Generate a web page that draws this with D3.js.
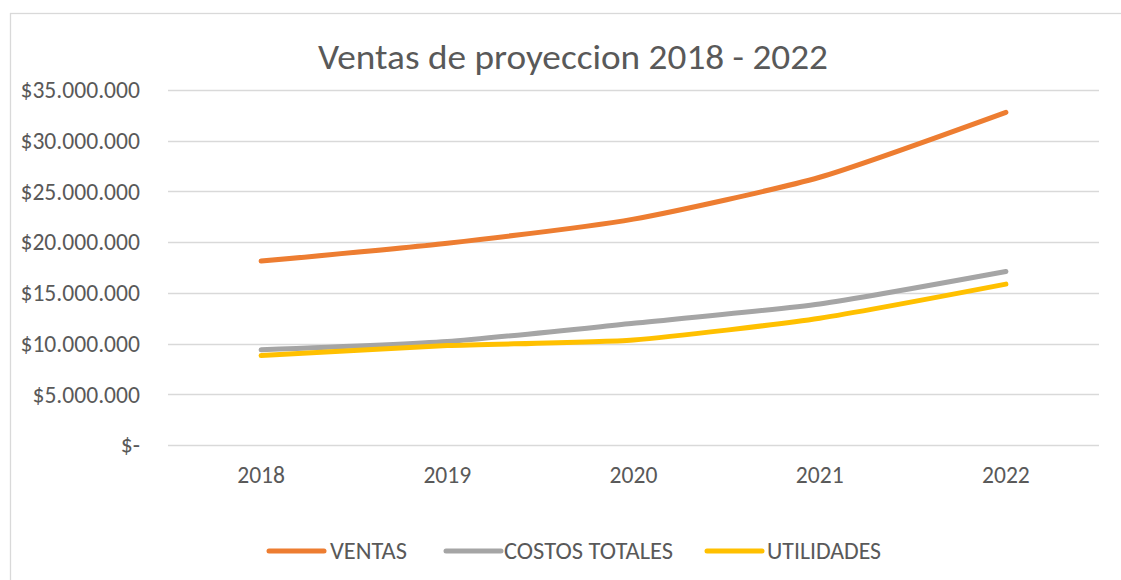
<!DOCTYPE html>
<html>
<head>
<meta charset="utf-8">
<script src="https://cdn.jsdelivr.net/npm/d3@7/dist/d3.min.js"></script>
<style>
  html, body { margin: 0; padding: 0; background: #ffffff; }
  svg { display: block; }
  text { font-family: Carlito, Lato, "Open Sans", sans-serif; fill: #595959; }
</style>
</head>
<body>
<svg id="chart" width="1121" height="580"></svg>
<script>
const title = "Ventas de proyeccion 2018 - 2022";
const categories = ["2018", "2019", "2020", "2021", "2022"];
const ventas = [18130000, 19900000, 22270000, 26400000, 32800000];
const costosTotales = [9380000, 10200000, 12000000, 13900000, 17100000];
const utilidades = [8820000, 9800000, 10360000, 12500000, 15860000];
const yTicks = [0, 5000000, 10000000, 15000000, 20000000, 25000000, 30000000, 35000000];
const seriesNames = ["VENTAS", "COSTOS TOTALES", "UTILIDADES"];
const seriesColors = ["#ED7D31", "#A5A5A5", "#FFC000"];

const series = [
  { name: seriesNames[0], values: ventas, color: seriesColors[0] },
  { name: seriesNames[1], values: costosTotales, color: seriesColors[1] },
  { name: seriesNames[2], values: utilidades, color: seriesColors[2] }
];

const svg = d3.select("#chart");

// outer chart border
svg.append("rect")
  .attr("x", 10.5).attr("y", 13.5)
  .attr("width", 1200).attr("height", 700)
  .attr("fill", "#ffffff")
  .attr("stroke", "#D9D9D9").attr("stroke-width", 1.3);

const plot = { left: 168, right: 1099, top: 90, bottom: 445 };

const x = d3.scaleBand().domain(categories).range([plot.left, plot.right]);
const y = d3.scaleLinear().domain([0, 35000000]).range([plot.bottom, plot.top]);

// gridlines
svg.append("g")
  .selectAll("line")
  .data(yTicks)
  .join("line")
  .attr("x1", plot.left).attr("x2", plot.right)
  .attr("y1", d => Math.round(y(d)) + 0.5).attr("y2", d => Math.round(y(d)) + 0.5)
  .attr("stroke", "#D9D9D9").attr("stroke-width", 1.3);

function fmt(v) {
  if (v === 0) return "$-";
  return "$" + d3.format(",")(v).replace(/,/g, ".");
}

// y axis
const yAxis = d3.axisLeft(y).tickValues(yTicks).tickFormat(fmt).tickSize(0).tickPadding(0);
const gy = svg.append("g").attr("transform", "translate(140,0)").call(yAxis);
gy.select(".domain").remove();
gy.selectAll("text")
  .attr("font-size", 23.6)
  .attr("fill", "#595959")
  .attr("font-family", "Carlito, Lato, sans-serif")
  .attr("dy", "0.33em")
  .attr("x", 0);

// x axis
const xAxis = d3.axisBottom(x).tickSize(0).tickPadding(0);
const gx = svg.append("g").attr("transform", "translate(0,483)").call(xAxis);
gx.select(".domain").remove();
gx.selectAll("text")
  .attr("font-size", 23.6)
  .attr("fill", "#595959")
  .attr("font-family", "Carlito, Lato, sans-serif")
  .attr("dy", 0)
  .attr("y", 0);

// lines
const line = d3.line()
  .x((d, i) => x(categories[i]) + x.bandwidth() / 2)
  .y(d => y(d))
  .curve(d3.curveCardinal.tension(0.4));

svg.append("g")
  .selectAll("path")
  .data(series)
  .join("path")
  .attr("d", d => line(d.values))
  .attr("fill", "none")
  .attr("stroke", d => d.color)
  .attr("stroke-width", 5)
  .attr("stroke-linecap", "round")
  .attr("stroke-linejoin", "round");

// title
svg.append("text")
  .attr("x", 318).attr("y", 69)
  .attr("font-size", 35)
  .attr("textLength", 510)
  .attr("lengthAdjust", "spacingAndGlyphs")
  .text(title);

// legend
const legendLayout = [
  { lx: 269, tx: 330, tw: 77 },
  { lx: 446, tx: 504, tw: 169 },
  { lx: 707, tx: 767, tw: 114 }
];
const lg = svg.append("g");
series.forEach((s, i) => {
  const L = legendLayout[i];
  lg.append("line")
    .attr("x1", L.lx).attr("x2", L.lx + 55)
    .attr("y1", 551).attr("y2", 551)
    .attr("stroke", s.color).attr("stroke-width", 5)
    .attr("stroke-linecap", "round");
  lg.append("text")
    .attr("x", L.tx).attr("y", 559)
    .attr("font-size", 23.6)
    .attr("textLength", L.tw)
    .attr("lengthAdjust", "spacingAndGlyphs")
    .text(s.name);
});
</script>
</body>
</html>
